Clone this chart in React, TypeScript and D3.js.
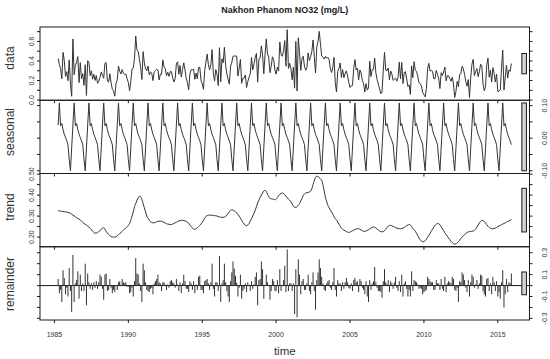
import React from 'react';
import * as d3 from 'd3';

// monthly series, first value = April 1985
const firstYear = 1985;
const firstMonth = 3;

// STL periodic seasonal component, Jan..Dec
const seasonalCycle = [-0.065, -0.1, -0.03, 0.04, 0.108, 0.038, 0.045, 0.026, 0.012, 0.002, -0.008, -0.02];

const dataVals = [
  0.426, 0.363, 0.322, 0.218, 0.488, 0.403, 0.242, 0.291, 0.198,
  0.411, 0.163, 0.039, 0.625, 0.259, 0.355, 0.388, 0.445, 0.178, 0.384, 0.218, 0.27,
  0.15, 0.361, 0.047, 0.403, 0.386, 0.25, 0.3, 0.214, 0.264, 0.201, 0.251, 0.172,
  0.191, 0.231, 0.288, 0.253, 0.223, 0.376, 0.383, 0.195, 0.184, 0.269, 0.175, 0.111,
  0.095, 0.04, 0.172, 0.206, 0.349, 0.295, 0.267, 0.313, 0.275, 0.26, 0.266, 0.219,
  0.18, 0.095, 0.19, 0.32, 0.328, 0.423, 0.655, 0.511, 0.499, 0.417, 0.335, 0.21,
  0.495, 0.38, 0.32, 0.3, 0.348, 0.258, 0.288, 0.276, 0.2, 0.29, 0.302, 0.313,
  0.31, 0.206, 0.266, 0.265, 0.411, 0.338, 0.322, 0.25, 0.284, 0.243, 0.292, 0.29,
  0.227, 0.185, 0.218, 0.371, 0.392, 0.265, 0.354, 0.236, 0.312, 0.381, 0.309, 0.225,
  0.177, 0.106, 0.268, 0.31, 0.311, 0.316, 0.212, 0.276, 0.217, 0.332, 0.338, 0.203,
  0.165, 0.11, 0.3, 0.388, 0.47, 0.362, 0.31, 0.361, 0.516, 0.275, 0.194, 0.312,
  0.265, 0.148, 0.536, 0.185, 0.422, 0.382, 0.54, 0.354, 0.267, 0.215, 0.163, 0.348,
  0.385, 0.449, 0.45, 0.451, 0.45, 0.246, 0.325, 0.416, 0.172, 0.222, 0.224, 0.256,
  0.128, 0.188, 0.235, 0.265, 0.436, 0.308, 0.368, 0.434, 0.477, 0.184, 0.418, 0.428,
  0.555, 0.46, 0.27, 0.463, 0.626, 0.473, 0.437, 0.281, 0.345, 0.443, 0.412, 0.308,
  0.265, 0.338, 0.297, 0.594, 0.466, 0.448, 0.503, 0.608, 0.347, 0.72, 0.323, 0.376,
  0.323, 0.208, 0.338, 0.122, 0.6, 0.093, 0.637, 0.486, 0.304, 0.427, 0.449, 0.346,
  0.305, 0.332, 0.483, 0.405, 0.446, 0.498, 0.615, 0.446, 0.277, 0.542, 0.6, 0.703,
  0.573, 0.45, 0.44, 0.42, 0.448, 0.428, 0.437, 0.416, 0.322, 0.282, 0.332, 0.437,
  0.183, 0.082, 0.292, 0.322, 0.38, 0.231, 0.312, 0.229, 0.272, 0.299, 0.246, 0.182,
  0.129, 0.147, 0.15, 0.323, 0.414, 0.307, 0.325, 0.206, 0.309, 0.276, 0.202, 0.168,
  0.082, 0.169, 0.102, 0.125, 0.397, 0.241, 0.311, 0.314, 0.429, 0.275, 0.21, 0.163,
  0.114, 0.066, 0.085, 0.306, 0.488, 0.305, 0.3, 0.328, 0.208, 0.298, 0.266, 0.201,
  0.213, 0.225, 0.193, 0.231, 0.388, 0.218, 0.386, 0.169, 0.278, 0.292, 0.216, 0.138,
  0.155, 0.058, 0.35, 0.23, 0.393, 0.306, 0.293, 0.243, 0.178, 0.169, 0.143, 0.078,
  0.053, 0.033, 0.12, 0.319, 0.376, 0.296, 0.303, 0.294, 0.22, 0.218, 0.304, 0.264,
  0.219, 0.118, 0.28, 0.25, 0.288, 0.338, 0.197, 0.25, 0.248, 0.22, 0.192, 0.234,
  0.164, 0.027, 0.088, 0.192, 0.136, 0.263, 0.269, 0.346, 0.318, 0.264, 0.189, 0.142,
  0.21, 0.026, 0.227, 0.368, 0.417, 0.25, 0.293, 0.323, 0.239, 0.289, 0.367, 0.35,
  0.164, 0.094, 0.137, 0.359, 0.43, 0.234, 0.307, 0.186, 0.332, 0.273, 0.185, 0.266,
  0.085, 0.093, 0.106, 0.329, 0.51, 0.103, 0.233, 0.357, 0.226, 0.309, 0.293, 0.374,
];

const trendVals = [
  0.326, 0.325, 0.324, 0.323, 0.322, 0.321, 0.32, 0.319, 0.318,
  0.316, 0.313, 0.309, 0.305, 0.301, 0.297, 0.293, 0.289, 0.286, 0.282, 0.276, 0.27,
  0.265, 0.261, 0.257, 0.253, 0.248, 0.242, 0.235, 0.228, 0.222, 0.219, 0.219, 0.222,
  0.226, 0.231, 0.238, 0.243, 0.245, 0.238, 0.228, 0.219, 0.212, 0.207, 0.203, 0.201,
  0.2, 0.2, 0.202, 0.206, 0.211, 0.217, 0.222, 0.227, 0.233, 0.238, 0.244, 0.249,
  0.255, 0.265, 0.28, 0.3, 0.32, 0.345, 0.36, 0.375, 0.387, 0.395, 0.393, 0.38,
  0.36, 0.34, 0.32, 0.3, 0.29, 0.28, 0.273, 0.27, 0.268, 0.268, 0.27, 0.273,
  0.275, 0.276, 0.276, 0.275, 0.273, 0.27, 0.267, 0.264, 0.262, 0.261, 0.26, 0.26,
  0.262, 0.265, 0.268, 0.271, 0.274, 0.277, 0.279, 0.28, 0.28, 0.279, 0.277, 0.275,
  0.272, 0.266, 0.258, 0.25, 0.243, 0.238, 0.237, 0.24, 0.245, 0.25, 0.256, 0.263,
  0.27, 0.28, 0.29, 0.298, 0.302, 0.304, 0.305, 0.305, 0.304, 0.303, 0.302, 0.302,
  0.3, 0.298, 0.296, 0.295, 0.294, 0.294, 0.295, 0.298, 0.305, 0.313, 0.321, 0.328,
  0.33, 0.329, 0.325, 0.321, 0.315, 0.308, 0.3, 0.29, 0.28, 0.27, 0.262, 0.256,
  0.253, 0.258, 0.265, 0.275, 0.288, 0.3, 0.313, 0.328, 0.345, 0.362, 0.376, 0.388,
  0.4, 0.41, 0.42, 0.423, 0.418, 0.405, 0.392, 0.385, 0.383, 0.381, 0.38, 0.378,
  0.38, 0.388, 0.397, 0.404, 0.408, 0.41, 0.408, 0.402, 0.395, 0.388, 0.381, 0.376,
  0.368, 0.358, 0.348, 0.342, 0.341, 0.345, 0.352, 0.36, 0.372, 0.385, 0.397, 0.406,
  0.41, 0.412, 0.413, 0.415, 0.418, 0.43, 0.45, 0.47, 0.485, 0.49, 0.488, 0.483,
  0.478, 0.47, 0.45, 0.42, 0.39, 0.37, 0.352, 0.34, 0.33, 0.32, 0.31, 0.297,
  0.288, 0.282, 0.272, 0.262, 0.252, 0.243, 0.237, 0.233, 0.23, 0.227, 0.224, 0.222,
  0.224, 0.227, 0.23, 0.233, 0.236, 0.239, 0.24, 0.24, 0.237, 0.234, 0.23, 0.228,
  0.227, 0.229, 0.232, 0.235, 0.239, 0.243, 0.246, 0.248, 0.247, 0.243, 0.238, 0.233,
  0.229, 0.226, 0.225, 0.226, 0.23, 0.237, 0.245, 0.252, 0.256, 0.256, 0.254, 0.251,
  0.248, 0.245, 0.243, 0.241, 0.24, 0.24, 0.241, 0.243, 0.246, 0.25, 0.254, 0.258,
  0.26, 0.258, 0.25, 0.24, 0.235, 0.228, 0.218, 0.207, 0.196, 0.187, 0.181, 0.178,
  0.178, 0.183, 0.19, 0.199, 0.208, 0.218, 0.228, 0.238, 0.248, 0.256, 0.262, 0.264,
  0.264, 0.258, 0.25, 0.24, 0.23, 0.22, 0.212, 0.204, 0.196, 0.188, 0.18, 0.174,
  0.169, 0.167, 0.168, 0.172, 0.178, 0.185, 0.194, 0.2, 0.206, 0.212, 0.217, 0.222,
  0.225, 0.226, 0.227, 0.228, 0.229, 0.232, 0.238, 0.247, 0.257, 0.267, 0.275, 0.28,
  0.279, 0.274, 0.267, 0.259, 0.252, 0.246, 0.242, 0.24, 0.24, 0.241, 0.243, 0.246,
  0.25, 0.253, 0.256, 0.259, 0.262, 0.265, 0.268, 0.271, 0.274, 0.277, 0.281, 0.284,
];

const remainderVals = [
  0.06, -0.07, -0.04, -0.15, 0.14, 0.07, -0.08, -0.02, -0.1,
  0.16, -0.05, -0.24, 0.28, -0.15, 0.02, 0.05, 0.13, -0.12, 0.1, -0.05, 0.02,
  -0.05, 0.2, -0.18, 0.11, 0.03, -0.03, 0.02, -0.04, 0.03, -0.02, 0.04, -0.03,
  0.03, 0.1, 0.08, -0.03, -0.13, 0.1, 0.11, -0.05, -0.04, 0.06, -0.02, -0.07,
  -0.04, -0.06, 0, -0.04, 0.03, 0.04, 0, 0.06, 0.03, 0.02, 0.03, -0.01,
  -0.01, -0.07, -0.06, -0.02, -0.1, 0.04, 0.25, 0.11, 0.1, 0.02, -0.05, -0.15,
  0.2, 0.14, 0.03, -0.04, -0.05, -0.06, -0.03, -0.02, -0.08, 0.02, 0.04, 0.06,
  0.1, 0.03, 0.02, -0.05, 0.03, 0.03, 0.01, -0.04, 0.01, -0.02, 0.04, 0.05,
  0.03, 0.02, -0.02, 0.06, 0.01, -0.05, 0.03, -0.07, 0.02, 0.1, 0.04, -0.03,
  -0.03, -0.06, 0.04, 0.02, -0.04, 0.04, -0.07, 0.01, -0.04, 0.08, 0.09, -0.04,
  -0.04, -0.07, 0.04, 0.05, 0.06, 0.02, -0.04, 0.03, 0.2, -0.03, -0.1, 0.03,
  0.03, -0.05, 0.27, -0.15, 0.02, 0.05, 0.2, 0.03, -0.05, -0.1, -0.15, 0.04,
  0.12, 0.22, 0.155, 0.09, 0.027, -0.1, -0.02, 0.1, -0.12, -0.05, -0.03, 0.02,
  -0.06, 0.03, 0, -0.05, 0.04, -0.03, 0.01, 0.08, 0.12, -0.18, 0.05, 0.06,
  0.22, 0.15, -0.12, 0, 0.1, 0.03, 0, -0.13, -0.05, 0.06, 0.04, -0.05,
  -0.05, 0.05, -0.07, 0.15, -0.05, 0, 0.05, 0.18, -0.06, 0.33, -0.05, 0.02,
  0.02, -0.05, 0.02, -0.26, 0.15, -0.29, 0.24, 0.1, -0.08, 0.04, 0.06, -0.04,
  -0.04, 0.02, 0.1, -0.05, -0.08, 0.03, 0.12, -0.05, -0.22, 0.05, 0.12, 0.24,
  0.16, 0.08, 0.02, -0.04, -0.05, 0.02, 0.04, 0.05, -0.02, -0.04, 0.03, 0.16,
  -0.04, -0.1, 0.05, 0.02, 0.02, -0.05, 0.03, -0.03, 0.03, 0.07, 0.03, -0.02,
  -0.03, 0.02, -0.05, 0.05, 0.07, 0.03, 0.04, -0.06, 0.06, 0.04, -0.02, -0.04,
  -0.08, 0.04, -0.1, -0.15, 0.05, -0.04, 0.02, 0.04, 0.17, 0.03, -0.02, -0.05,
  -0.05, -0.06, -0.11, 0.04, 0.15, 0.03, 0.01, 0.05, -0.06, 0.04, 0.02, -0.03,
  0.03, 0.08, -0.02, -0.05, 0.04, -0.06, 0.1, -0.1, 0.02, 0.04, -0.03, -0.1,
  -0.04, -0.1, 0.13, -0.05, 0.05, 0.04, 0.03, 0.01, -0.03, -0.02, -0.03, -0.08,
  -0.06, -0.05, -0.04, 0.08, 0.06, 0.04, 0.03, 0.03, -0.04, -0.04, 0.05, 0.02,
  0.02, -0.04, 0.06, -0.03, -0.05, 0.08, -0.06, 0.02, 0.04, 0.03, 0.02, 0.08,
  0.06, -0.04, -0.05, -0.02, -0.15, 0.04, 0.03, 0.12, 0.1, 0.05, -0.02, -0.06,
  0.05, -0.1, 0.03, 0.1, 0.08, -0.02, 0.01, 0.05, -0.03, 0.02, 0.1, 0.09,
  -0.05, -0.08, -0.1, 0.06, 0.07, -0.05, 0.02, -0.08, 0.08, 0.03, -0.05, 0.04,
  -0.1, -0.06, -0.12, 0.03, 0.14, -0.2, -0.08, 0.06, -0.06, 0.03, 0.02, 0.11,
];

const yearTicks = [1985, 1990, 1995, 2000, 2005, 2010, 2015];

const times = dataVals.map((_, i) => firstYear + (firstMonth + i) / 12);
const seasonalVals = times.map((_, i) => seasonalCycle[(firstMonth + i) % 12]);

type Panel = {
  name: string;
  values: number[];
  ticks: number[];
  labels: number[];
  digits: number;
  side: 'left' | 'right';
  kind: 'line' | 'smooth' | 'h';
  nameY: number;
};

const panels: Panel[] = [
  { name: 'data', values: dataVals, ticks: [0, 0.1, 0.2, 0.3, 0.4, 0.5, 0.6, 0.7], labels: [0, 0.2, 0.4, 0.6], digits: 1, side: 'left', kind: 'line', nameY: 58 },
  { name: 'seasonal', values: seasonalVals, ticks: [-0.1, -0.05, 0, 0.05, 0.1], labels: [-0.1, 0, 0.1], digits: 2, side: 'right', kind: 'line', nameY: 132 },
  { name: 'trend', values: trendVals, ticks: [0.2, 0.25, 0.3, 0.35, 0.4, 0.45, 0.5], labels: [0.2, 0.3, 0.4, 0.5], digits: 2, side: 'left', kind: 'smooth', nameY: 207 },
  { name: 'remainder', values: remainderVals, ticks: [-0.3, -0.2, -0.1, 0, 0.1, 0.2, 0.3], labels: [-0.3, -0.1, 0.1, 0.3], digits: 1, side: 'right', kind: 'h', nameY: 284 },
];

const W = 550;
const H = 359;
const left = 40;
const right = 529.5;
const top = 27;
const panelH = 73.25;
const font = "'Liberation Sans', Arial, Helvetica, sans-serif";
const ink = '#1a1a1a';
const textInk = '#333';

const padded = (vals: number[]): [number, number] => {
  const [lo, hi] = d3.extent(vals) as [number, number];
  const pad = 0.04 * (hi - lo);
  return [lo - pad, hi + pad];
};

export default function App() {
  const x = d3.scaleLinear().domain(padded(times)).range([left, right]);
  const barLen = d3.min(panels, p => (d3.max(p.values) as number) - (d3.min(p.values) as number)) as number;
  const dx = (right - left) / 64;
  const bottom = top + panelH * panels.length;

  return (
    <svg
      width={W}
      height={H}
      style={{ position: 'absolute', left: 0, top: 0, display: 'block', background: '#fff' }}
      fontFamily={font}
    >
      <text x={(left + right) / 2} y={13} textAnchor="middle" fontSize={9} fontWeight="bold" fill={ink}>
        Nakhon Phanom NO32 (mg/L)
      </text>

      {panels.map((p, i) => {
        const y0 = top + i * panelH;
        const y1 = y0 + panelH;
        const dom = padded(p.values);
        const y = d3.scaleLinear().domain(dom).range([y1, y0]);
        const inDom = (v: number) => v >= dom[0] - 1e-9 && v <= dom[1] + 1e-9;
        const line = d3
          .line<number>()
          .x((_, j) => x(times[j]))
          .y(v => y(v))
          .curve(p.kind === 'smooth' ? d3.curveMonotoneX : d3.curveLinear);
        const [lo, hi] = d3.extent(p.values) as [number, number];
        const mid = (lo + hi) / 2;
        const labelX = p.side === 'left' ? left - 6.5 : right + 17;

        return (
          <g key={p.name}>
            <clipPath id={`clip-${i}`}>
              <rect x={left} y={y0} width={right - left} height={panelH} />
            </clipPath>

            {p.kind === 'h' ? (
              <g>
                <line x1={left} x2={right} y1={y(0)} y2={y(0)} stroke={ink} strokeWidth={1} />
                {p.values.map((v, j) => (
                  <line key={j} x1={x(times[j])} x2={x(times[j])} y1={y(0)} y2={y(v)} stroke="#333" strokeWidth={1} />
                ))}
              </g>
            ) : (
              <path d={line(p.values) || undefined} fill="none" stroke="#333" strokeWidth={1} clipPath={`url(#clip-${i})`} />
            )}

            {/* range bar */}
            <rect
              x={right - dx}
              y={y(mid + barLen / 2)}
              width={0.6 * dx}
              height={y(mid - barLen / 2) - y(mid + barLen / 2)}
              fill="#d3d3d3"
              stroke={ink}
              strokeWidth={1}
            />

            <rect x={left} y={y0} width={right - left} height={panelH} fill="none" stroke={ink} strokeWidth={1} />

            {/* y ticks on both sides */}
            {p.ticks.filter(inDom).map(t => (
              <g key={t}>
                <line x1={left} x2={left - 3} y1={y(t)} y2={y(t)} stroke={ink} />
                <line x1={right} x2={right + 3} y1={y(t)} y2={y(t)} stroke={ink} />
              </g>
            ))}
            {p.labels.filter(inDom).map(t => (
              <text
                key={t}
                transform={`translate(${labelX},${y(t)}) rotate(-90)`}
                textAnchor="middle"
                fontSize={7}
                fill={textInk}
              >
                {t.toFixed(p.digits)}
              </text>
            ))}

            {/* x ticks under each panel */}
            {yearTicks.map(yr => (
              <line key={yr} x1={x(yr)} x2={x(yr)} y1={y1} y2={y1 + 3} stroke={ink} />
            ))}

            <text transform={`translate(14,${p.nameY}) rotate(-90)`} textAnchor="middle" fontSize={12} fill={textInk}>
              {p.name}
            </text>
          </g>
        );
      })}

      {yearTicks.map(yr => (
        <text key={yr} x={x(yr)} y={bottom + 17} textAnchor="middle" fontSize={7} fill={textInk}>
          {yr}
        </text>
      ))}
      <text x={(left + right) / 2} y={355} textAnchor="middle" fontSize={11.5} fill={textInk}>
        time
      </text>
    </svg>
  );
}
